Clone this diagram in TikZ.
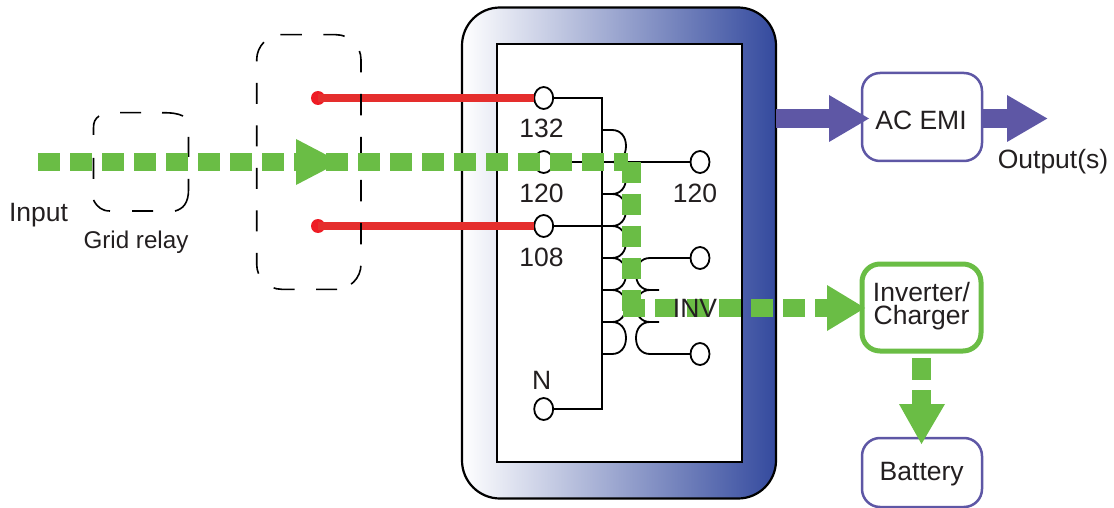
\documentclass[tikz,border=0pt]{standalone}
\usepackage{fontspec}
\setmainfont{Liberation Sans}
\usetikzlibrary{shapes.geometric}
\definecolor{flowgreen}{HTML}{6ABD45}
\definecolor{boxpurple}{HTML}{5E57A5}
\definecolor{wirered}{HTML}{E52E2D}
\definecolor{dotred}{HTML}{EE1C25}
\definecolor{ink}{HTML}{231F20}
\definecolor{frameblue}{HTML}{344A9E}
\definecolor{framemid}{HTML}{8A8BC1}
\tikzset{
  lbl/.style={anchor=base,inner sep=0pt,outer sep=0pt,text=ink,font=\fontsize{26.5}{26.5}\selectfont},
  smalllbl/.style={lbl,font=\fontsize{24.2}{24.2}\selectfont},
  terminal/.style={ellipse,draw=black,line width=1.8pt,fill=white,minimum width=19pt,minimum height=22pt,inner sep=0pt,outer sep=0pt},
  wire/.style={draw=black,line width=2pt},
  coil/.style={draw=black,line width=1.8pt},
  hotwire/.style={draw=wirered,line width=8pt},
  reddot/.style={circle,fill=dotred,minimum size=14pt,inner sep=0pt,outer sep=0pt},
  relayline/.style={draw=black,line width=1.6pt},
  bigdashA/.style={relayline,dash pattern=on 21.5pt off 21.5pt},
  bigdashB/.style={relayline,dash pattern=on 21pt off 21.5pt},
  flowh/.style={draw=flowgreen,line width=18.7pt,dash pattern=on 21.5pt off 10.5pt},
  modbox/.style={rectangle,draw=boxpurple,fill=white,line width=2.5pt,rounded corners=18pt,minimum width=120pt,inner sep=0pt,outer sep=0pt},
  purplearrow/.style={fill=boxpurple},
  greenarrow/.style={fill=flowgreen},
}
\begin{document}
\begin{tikzpicture}[x=1pt,y=-1pt]
\useasboundingbox (0,0) rectangle (1114,508);
% inverter enclosure
\node[rectangle,draw=black,line width=2.2pt,rounded corners=38pt,left color=white,middle color=framemid,right color=frameblue,minimum width=314pt,minimum height=491pt,inner sep=0pt,outer sep=0pt] (frame) at (619,253) {};
\node[rectangle,draw=black,line width=2pt,fill=white,minimum width=245pt,minimum height=417pt,inner sep=0pt,outer sep=0pt] (inner) at (619,253) {};
% terminals
\node[terminal] (t132) at (543.7,98) {};
\node[terminal] (t120) at (543.7,162) {};
\node[terminal] (t108) at (543.7,226) {};
\node[terminal] (tN) at (543.7,409) {};
\node[terminal] (o120) at (700,162) {};
\node[terminal] (oA) at (700,258) {};
\node[terminal] (oB) at (700,354) {};
% red input wires
\node[reddot] (r1) at (318,98) {};
\node[reddot] (r2) at (318,226) {};
\draw[hotwire] (r1.center) -- (t132);
\draw[hotwire] (r2.center) -- (t108);
% grid relay (dashed outline)
\draw[relayline]
  (120,112.7) -- (141,112.7)
  (162,112.7) .. controls (172,112.7) and (178,113.5) .. (183,116)
  (188.5,137) -- (188.5,157)
  (188.5,179) -- (188.5,190) .. controls (188.5,203) and (183,209) .. (175,211)
  (132,211) -- (153,211)
  (110,211) .. controls (102,211) and (97,207) .. (93.5,200)
  (93.5,158) -- (93.5,179)
  (93.5,135) -- (93.5,128) .. controls (93.5,122) and (95,119) .. (99,116);
% second relay (dashed outline)
\draw[bigdashA] (280.3,34.7) -- (336,34.7) arc[start angle=90,end angle=0,x radius=25,y radius=-25] -- (361,264.3) arc[start angle=0,end angle=-90,x radius=25,y radius=-25] -- (337,289.3);
\draw[bigdashB] (337,289.3) -- (281.7,289.3) arc[start angle=-90,end angle=-180,x radius=25,y radius=-25] -- (256.7,59.7) arc[start angle=180,end angle=135,x radius=25,y radius=-25];
% transformer
\coordinate (busTop) at (602,98);
\coordinate (busBot) at (602,409);
\draw[wire,line join=miter] (t132) -- (busTop) -- (busBot) -- (tN);
\draw[wire] (t120) -- (o120);
\draw[wire] (t108) -- (614,226);
\foreach \y in {130,162,194,226,258,290,322}{
  \draw[coil] (602,\y) -- (612,\y) .. controls (621,\y) and (626,\y+7) .. (626,\y+16) .. controls (626,\y+25) and (621,\y+32) .. (612,\y+32) -- (602,\y+32);
}
\draw[coil] (oA) -- (650,258) .. controls (641,258) and (636,265) .. (636,274) .. controls (636,283) and (641,290) .. (650,290) -- (659,290);
\draw[coil] (650,290) .. controls (641,290) and (636,297) .. (636,306) .. controls (636,315) and (641,322) .. (650,322);
\draw[coil] (659,322) -- (650,322) .. controls (641,322) and (636,329) .. (636,338) .. controls (636,347) and (641,354) .. (650,354) -- (oB);
% module boxes
\node[modbox,minimum height=88pt] (emi) at (922,117) {};
\node[modbox,draw=flowgreen,line width=5pt,minimum width=119pt,minimum height=87pt] (inv) at (921.5,307.5) {};
\node[modbox,minimum height=69pt] (bat) at (922,472.5) {};
% purple arrows
\coordinate (emiIn) at (869,118.5);
\coordinate (outTip) at (1047.3,118.5);
\draw[draw=boxpurple,line width=19pt] (frame.east |- emiIn) -- (830,118.5);
\fill[purplearrow] (829,95) -- (emiIn) -- (829,142) -- cycle;
\draw[draw=boxpurple,line width=19pt] (emi.east |- emiIn) -- (1008,118.5);
\fill[purplearrow] (1007,95) -- (outTip) -- (1007,142) -- cycle;
% green flow
\coordinate (fStart) at (38,162);
\coordinate (fEnd) at (628,162);
\coordinate (vStart) at (631.5,161.7);
\coordinate (vEnd) at (631.5,311);
\coordinate (h2Start) at (623,308);
\coordinate (h2End) at (837,308);
\coordinate (dStart) at (921.5,358);
\coordinate (dEnd) at (921.5,406);
\draw[flowh] (fStart) -- (fEnd);
\fill[greenarrow] (296,139) -- (340,162) -- (296,185) -- cycle;
\draw[flowh,line width=19pt] (vStart) -- (vEnd);
\draw[flowh] (h2Start) -- (h2End);
\fill[greenarrow] (827,285) -- (865,308) -- (827,331) -- cycle;
\draw[flowh,line width=19pt] (dStart) -- (dEnd);
\fill[greenarrow] (899,404) -- (921.5,444) -- (945,404) -- cycle;
% labels
\node[lbl] (lInput) at (38.5,221.5) {Input};
\node[smalllbl] (lGrid) at (136,248) {Grid relay};
\node[lbl] (l132) at (541.5,137.5) {132};
\node[lbl] (l120) at (541.5,202.5) {120};
\node[lbl] (l108) at (541.5,266.5) {108};
\node[lbl] (lN) at (541.7,389) {N};
\node[lbl] (lo120) at (695,202.5) {120};
\node[lbl] (lINV) at (695,317) {INV};
\node[lbl] (lEmi) at (921,130) {AC EMI};
\node[lbl] (lOut) at (1053,168) {Output(s)};
\node[lbl,anchor=center,align=center,font=\fontsize{26.5}{23.5}\selectfont] (lInv) at (921.5,306) {Inverter/\\Charger};
\node[lbl] (lBat) at (921.7,480) {Battery};
\end{tikzpicture}
\end{document}
